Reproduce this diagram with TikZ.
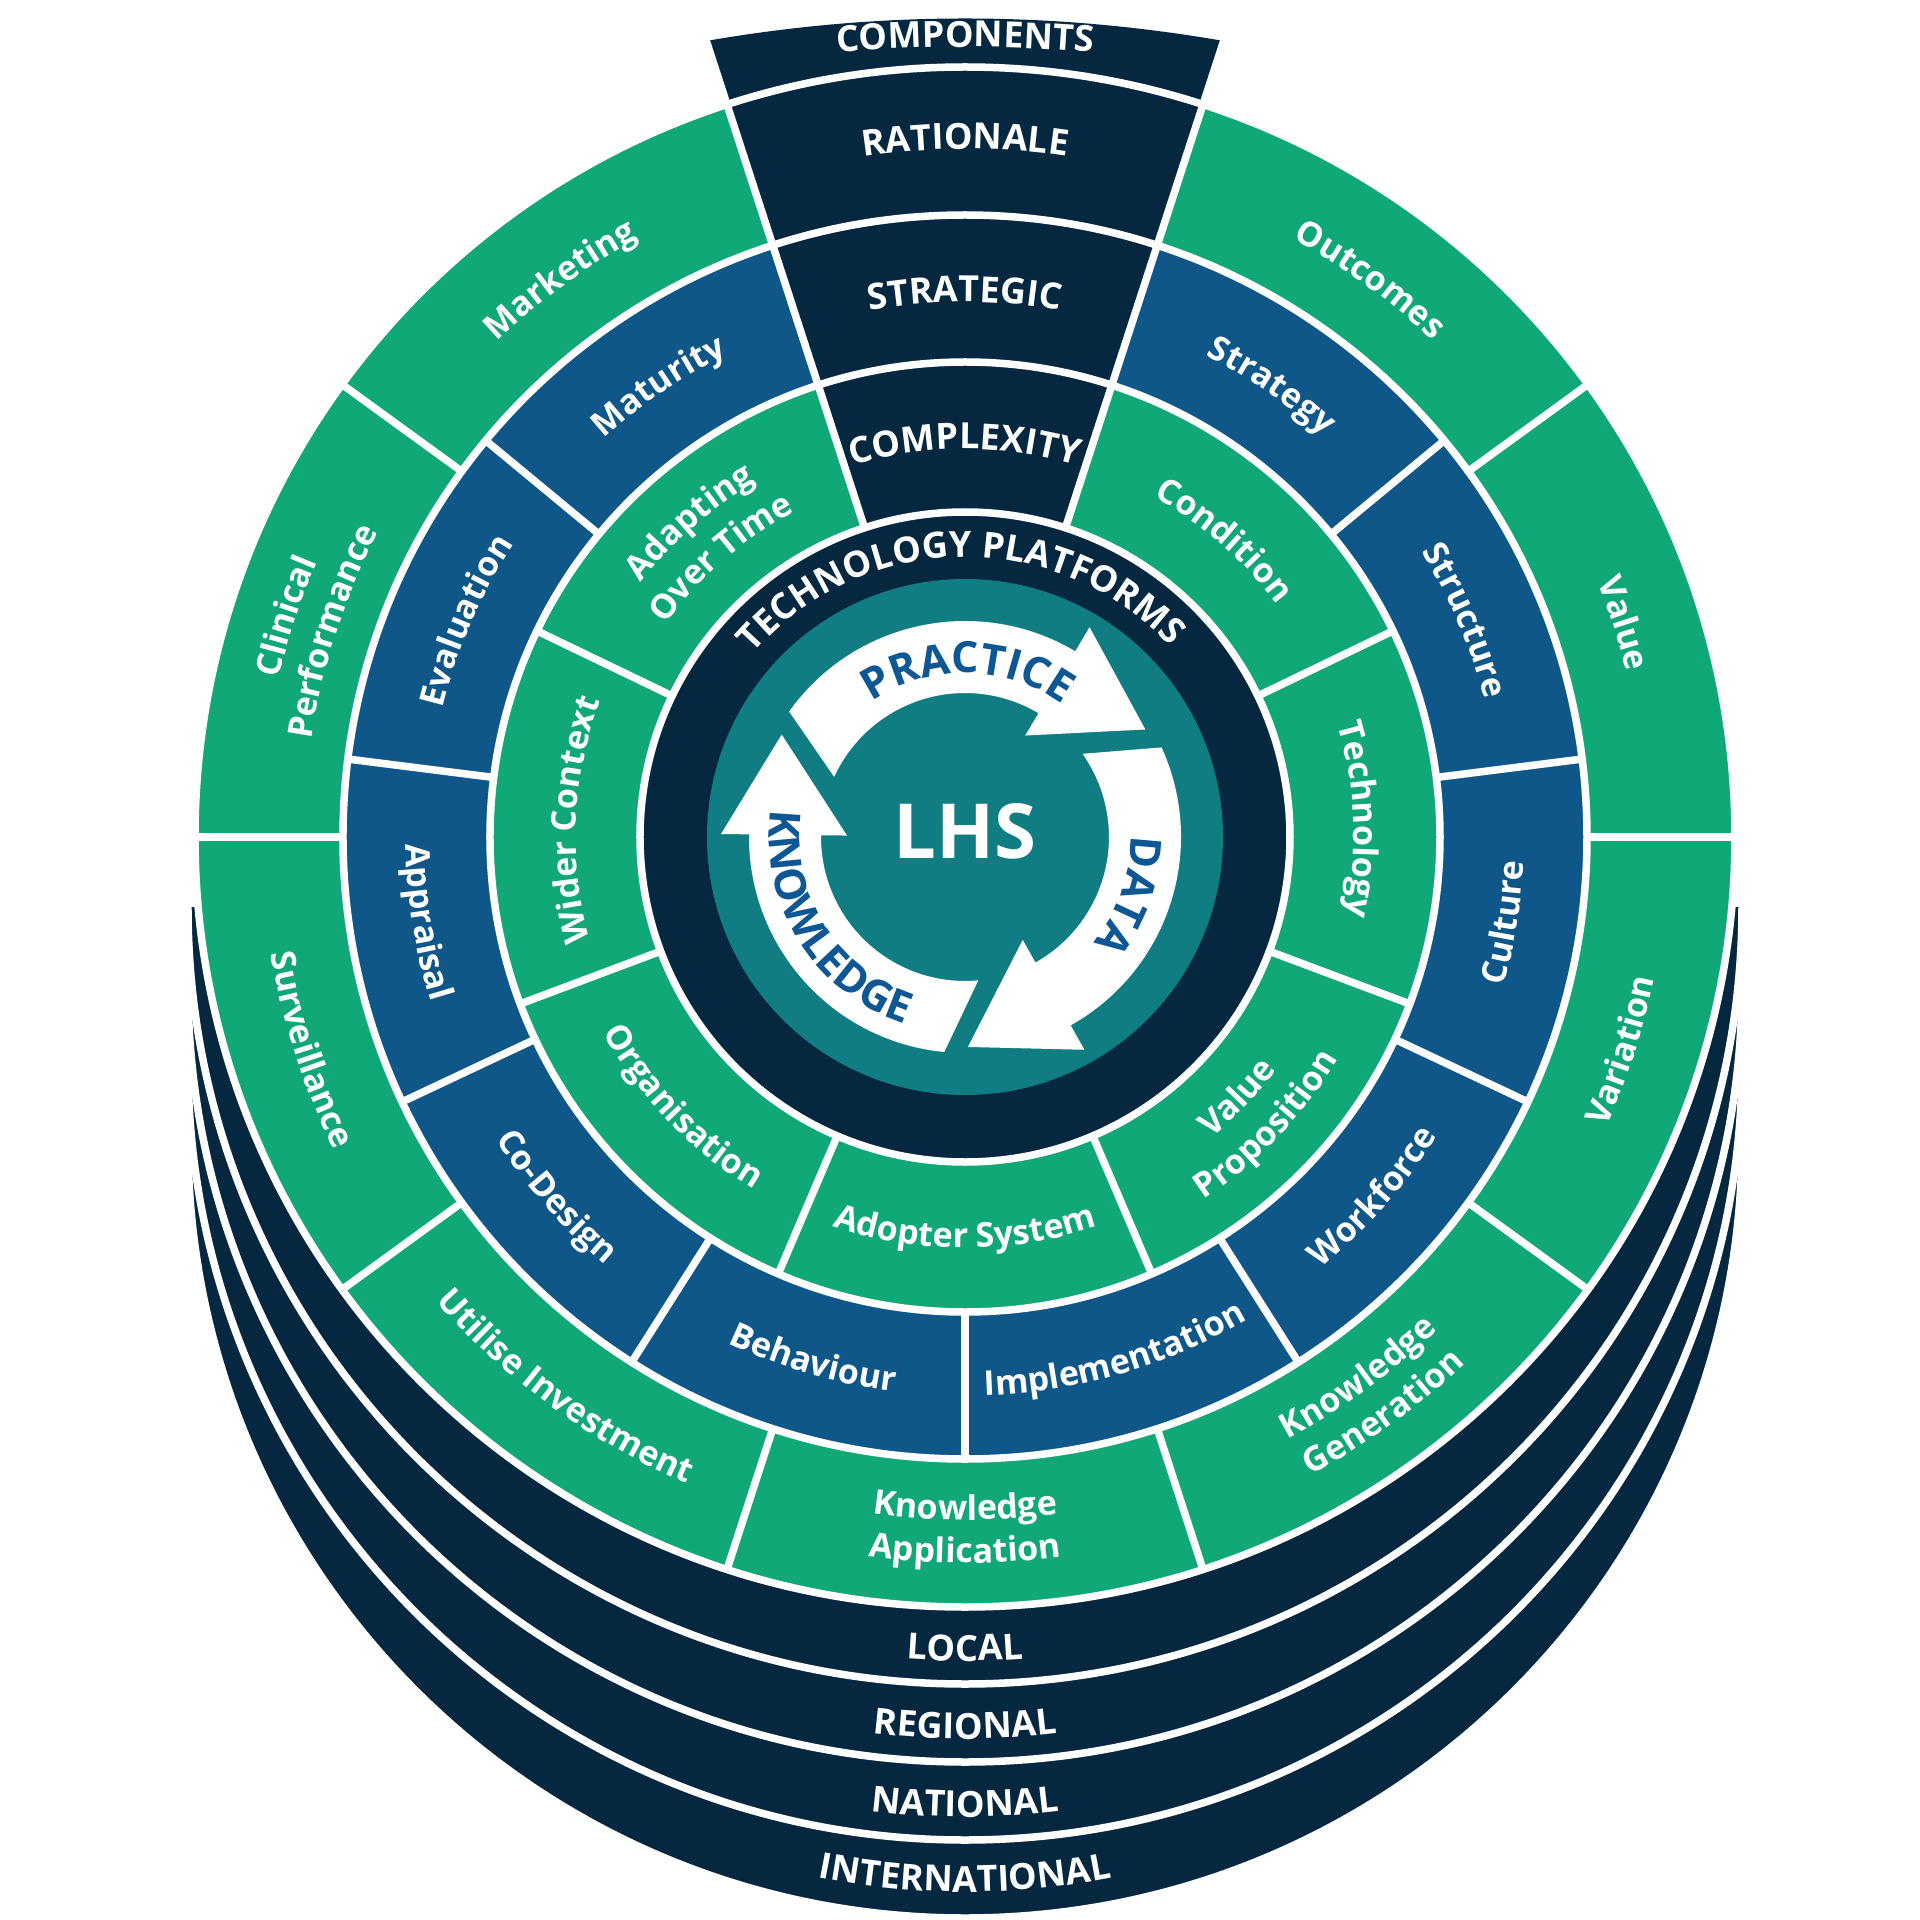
\documentclass[tikz,border=0pt]{standalone}
\usepackage{fontspec}
\setmainfont{Open Sans}
\usetikzlibrary{decorations.text}
\definecolor{navy}{HTML}{05273F}
\definecolor{ringgreen}{HTML}{11A878}
\definecolor{ringblue}{HTML}{0E5788}
\definecolor{lhsteal}{HTML}{0F7D81}
\definecolor{arrowblue}{HTML}{0D5794}
\newcommand\segfont{\bfseries\fontsize{34}{34}\selectfont}
\newcommand\capsfont{\bfseries\fontsize{36}{36}\selectfont}
\newcommand\arrowfont{\bfseries\fontsize{43}{43}\selectfont}
% clockwise text (tops pointing outward)
\newcommand\cwtext[5]{%
  \path[decorate,decoration={text along path,text align=center,text color=#4,text={#5}}]
    ({#2+#3}:#1) arc[start angle={#2+#3}, end angle={#2-#3}, radius=#1];}
% counter-clockwise text (tops pointing inward)
\newcommand\ccwtext[5]{%
  \path[decorate,decoration={text along path,text align=center,text color=#4,text={#5}}]
    ({#2-#3}:#1) arc[start angle={#2-#3}, end angle={#2+#3}, radius=#1];}
\tikzset{
  sep/.style={white, line width=7.5pt},
}
\begin{document}
\begin{tikzpicture}[x=1pt,y=1pt]
\useasboundingbox (-965,-1083) rectangle (955,837);
\fill[white] (-965,-1083) rectangle (955,837);
% stacked level layers
\foreach \d in {304,226,148,70} {
  \fill[navy] (-777,-\d) arc[start angle=180, end angle=360, radius=777] -- cycle;
  \draw[sep] (-777,-\d) arc[start angle=180, end angle=360, radius=777];
}
% rings
\fill[ringgreen] (0,0) circle[radius=770];
\fill[ringblue] (0,0) circle[radius=622];
\fill[ringgreen] (0,0) circle[radius=475];
% components wedge
\fill[navy] (108:325) -- (108:837) .. controls (-86,826) and (86,826) .. (72:837) -- (72:325) -- cycle;
\fill[navy] (0,0) circle[radius=325];
\fill[lhsteal] (0,0) circle[radius=258];
% white separators
\draw[sep] (0,0) circle[radius=770] circle[radius=622] circle[radius=475] circle[radius=325];
\foreach \a in {0,36,144,180,216,252,288,324} \draw[sep] (\a:622) -- (\a:770);
\foreach \a in {140.4,172.8,205.2,237.6,270,302.4,334.8,7.2,39.6} \draw[sep] (\a:475) -- (\a:622);
\foreach \a in {154.2857,200.5714,246.8571,293.1429,339.4286,25.7143} \draw[sep] (\a:325) -- (\a:475);
\draw[sep] (72:325) -- (72:837);
\draw[sep] (108:325) -- (108:837);
% cycle arrows
\foreach \r in {0,120,240}
  \fill[white, rotate=\r] (144.5:216) arc[start angle=144.5, end angle=59.3, radius=216]
    -- (59.3:244) -- (30.8:210) -- (59.3:118) -- (59.3:144)
    arc[start angle=59.3, end angle=155.3, radius=144] -- cycle;
\node[text=white, font=\bfseries\fontsize{76}{76}\selectfont, inner sep=0pt] (lhs) at (0,6) {LHS};
\cwtext{164}{89}{70}{arrowblue}{|\arrowfont|PRACTICE}
\cwtext{166}{-19.5}{60}{arrowblue}{|\arrowfont|DATA}
\ccwtext{196}{212}{60}{arrowblue}{|\arrowfont|KNOWLEDGE}
% technology platforms
\cwtext{280}{91}{75}{white}{|\capsfont|TECHNOLOGY PLATFORMS}
% wedge
\begin{scope}[shift={(0,-710)}]
\cwtext{1500}{90}{8}{white}{|\capsfont|COMPONENTS}
\end{scope}
\cwtext{688}{90}{30}{white}{|\capsfont|RATIONALE}
\cwtext{535}{90}{35}{white}{|\capsfont|STRATEGIC}
\cwtext{388}{90}{45}{white}{|\capsfont|COMPLEXITY}
% outer ring
\cwtext{682}{18}{30}{white}{|\segfont|Value}
\cwtext{682}{54}{30}{white}{|\segfont|Outcomes}
\cwtext{682}{126}{30}{white}{|\segfont|Marketing}
\cwtext{704}{162}{30}{white}{|\segfont|Clinical}
\cwtext{661}{162}{30}{white}{|\segfont|Performance}
\ccwtext{704}{198}{30}{white}{|\segfont|Surveillance}
\ccwtext{704}{234}{30}{white}{|\segfont|Utilise Investment}
\ccwtext{683}{270}{30}{white}{|\segfont|Knowledge}
\ccwtext{726}{270}{30}{white}{|\segfont|Application}
\ccwtext{683}{306}{30}{white}{|\segfont|Knowledge}
\ccwtext{726}{306}{30}{white}{|\segfont|Generation}
\ccwtext{704}{342}{30}{white}{|\segfont|Variation}
% blue ring
\cwtext{538}{124.2}{35}{white}{|\segfont|Maturity}
\cwtext{538}{156.6}{35}{white}{|\segfont|Evaluation}
\ccwtext{559}{189}{35}{white}{|\segfont|Appraisal}
\ccwtext{559}{221.4}{35}{white}{|\segfont|Co-Design}
\ccwtext{559}{253.8}{35}{white}{|\segfont|Behaviour}
\ccwtext{559}{286.2}{35}{white}{|\segfont|Implementation}
\ccwtext{559}{318.6}{35}{white}{|\segfont|Workforce}
\ccwtext{559}{351}{35}{white}{|\segfont|Culture}
\cwtext{538}{23.4}{35}{white}{|\segfont|Structure}
\cwtext{538}{55.8}{35}{white}{|\segfont|Strategy}
% inner green ring
\cwtext{412}{131.14}{45}{white}{|\segfont|Adapting}
\cwtext{367}{131.14}{45}{white}{|\segfont|Over Time}
\cwtext{389}{177.43}{45}{white}{|\segfont|Wider Context}
\ccwtext{411}{223.71}{45}{white}{|\segfont|Organisation}
\ccwtext{411}{270}{45}{white}{|\segfont|Adopter System}
\ccwtext{389}{316.29}{45}{white}{|\segfont|Value}
\ccwtext{434}{316.29}{45}{white}{|\segfont|Proposition}
\cwtext{389}{2.57}{45}{white}{|\segfont|Technology}
\cwtext{389}{48.86}{45}{white}{|\segfont|Condition}
% levels
\begin{scope}[shift={(0,-70)}]\ccwtext{754}{270}{20}{white}{|\capsfont|LOCAL}\end{scope}
\begin{scope}[shift={(0,-148)}]\ccwtext{754}{270}{20}{white}{|\capsfont|REGIONAL}\end{scope}
\begin{scope}[shift={(0,-226)}]\ccwtext{754}{270}{20}{white}{|\capsfont|NATIONAL}\end{scope}
\begin{scope}[shift={(0,-304)}]\ccwtext{751}{270}{25}{white}{|\capsfont|INTERNATIONAL}\end{scope}
\end{tikzpicture}
\end{document}
